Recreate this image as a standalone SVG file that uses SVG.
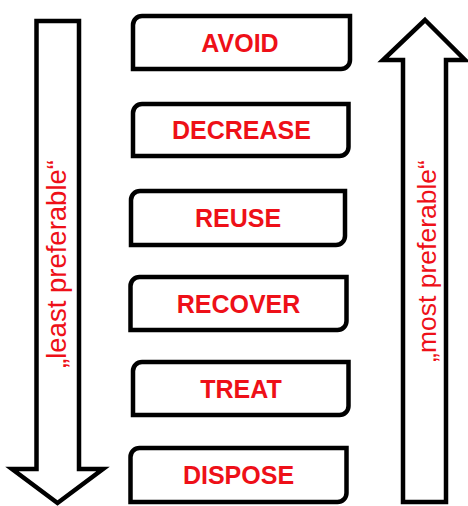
<svg xmlns="http://www.w3.org/2000/svg" width="468" height="506" viewBox="0 0 468 506">
  <style>
    .box { fill: #ffffff; stroke: #000000; stroke-width: 4.5; }
    .arrow { fill: #ffffff; stroke: #000000; stroke-width: 4.5; stroke-linejoin: miter; }
    .lbl { font-family: "Liberation Sans", Arial, sans-serif; font-weight: bold; font-size: 25px; fill: #ee1018; text-anchor: middle; }
    .side { font-family: "Liberation Sans", Arial, sans-serif; font-size: 26.5px; fill: #ee1018; text-anchor: middle; }
  </style>
  <rect width="468" height="506" fill="#ffffff"/>
  <g id="arrow-least">
    <polygon class="arrow" points="36.5,21 79,21 79,469 103,469 57.5,503 12,469 36.5,469"/>
    <text class="side" transform="translate(66,264) rotate(-90)" style="font-size:27.5px">„least preferable“</text>
  </g>
  <g id="arrow-most">
    <polygon class="arrow" points="425,20 465,60 446,60 446,502 403,502 403,60 383,60"/>
    <text class="side" transform="translate(436,261) rotate(-90)">„most preferable“</text>
  </g>
  <g id="avoid">
    <path class="box" d="M133 69 L133 25 A9 9 0 0 1 142 16 L350 16 L350 60 A9 9 0 0 1 341 69 Z"/>
    <text class="lbl" x="240" y="52">AVOID</text>
  </g>
  <g id="decrease">
    <path class="box" d="M133 156 L133 113 A9 9 0 0 1 142 104 L348.5 104 L348.5 147 A9 9 0 0 1 339.5 156 Z"/>
    <text class="lbl" x="241.5" y="139">DECREASE</text>
  </g>
  <g id="reuse">
    <path class="box" d="M131 245 L131 200 A9 9 0 0 1 140 191 L345 191 L345 236 A9 9 0 0 1 336 245 Z"/>
    <text class="lbl" x="238" y="227">REUSE</text>
  </g>
  <g id="recover">
    <path class="box" d="M130.5 330 L130.5 286 A9 9 0 0 1 139.5 277 L346.5 277 L346.5 321 A9 9 0 0 1 337.5 330 Z"/>
    <text class="lbl" x="238.5" y="312.5">RECOVER</text>
  </g>
  <g id="treat">
    <path class="box" d="M133 415 L133 371 A9 9 0 0 1 142 362 L348.5 362 L348.5 406 A9 9 0 0 1 339.5 415 Z"/>
    <text class="lbl" x="241" y="397.5">TREAT</text>
  </g>
  <g id="dispose">
    <path class="box" d="M130.5 502 L130.5 457 A9 9 0 0 1 139.5 448 L346.5 448 L346.5 493 A9 9 0 0 1 337.5 502 Z"/>
    <text class="lbl" x="238.5" y="484">DISPOSE</text>
  </g>
  <g id="connectors"></g>
</svg>
